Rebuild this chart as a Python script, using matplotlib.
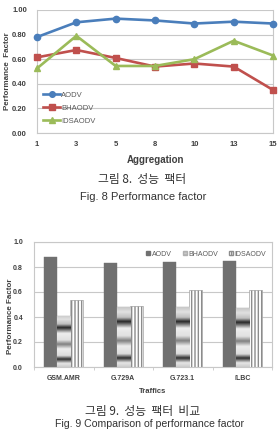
import numpy as np
import matplotlib
matplotlib.use("Agg")
import matplotlib.pyplot as plt
from matplotlib.patches import Patch

# ---------------- data ----------------
agg_labels = ["1", "3", "5", "8", "10", "13", "15"]
aodv_line = [0.78, 0.90, 0.93, 0.915, 0.89, 0.905, 0.89]
bhaodv_line = [0.615, 0.675, 0.61, 0.54, 0.565, 0.54, 0.35]
idsaodv_line = [0.525, 0.79, 0.545, 0.545, 0.60, 0.75, 0.63]

traffics = ["GSM.AMR", "G.729A", "G.723.1", "iLBC"]
aodv_bar = [0.88, 0.83, 0.84, 0.85]
bhaodv_bar = [0.41, 0.48, 0.48, 0.47]
idsaodv_bar = [0.54, 0.49, 0.62, 0.62]

top_yticks = [0.0, 0.2, 0.4, 0.6, 0.8, 1.0]
bot_yticks = [0.0, 0.2, 0.4, 0.6, 0.8, 1.0]
series_names = ["AODV", "BHAODV", "IDSAODV"]

# ---------------- style ----------------
W, H = 278, 434
DPI = 100
TICK_FONT = "Liberation Sans"
TXT = "#404040"
GRID = "#c8c8c8"

fig = plt.figure(figsize=(W / DPI, H / DPI), dpi=DPI)
fig.patch.set_facecolor("white")


def ax_rect(left, top, right, bottom):
    return [left / W, 1 - bottom / H, (right - left) / W, (bottom - top) / H]


# ---------------- top chart ----------------
ax1 = fig.add_axes(ax_rect(37, 10, 273, 133))
x = np.arange(len(agg_labels))
colors = ["#4a7ebb", "#c0504d", "#9bbb59"]
markers = ["o", "s", "^"]
for vals, c, m, name in zip([aodv_line, bhaodv_line, idsaodv_line], colors, markers, series_names):
    ax1.plot(x, vals, color=c, lw=1.9, marker=m, ms=4.5, mec=c, mfc=c,
             label=name, clip_on=False, zorder=3)
ax1.set_xlim(0, len(agg_labels) - 1)
ax1.set_ylim(0, 1.0)
ax1.set_yticks(top_yticks)
ax1.set_yticklabels([f"{v:.2f}" for v in top_yticks], fontsize=5.5, fontweight="bold",
                    family=TICK_FONT, color=TXT)
ax1.set_xticks(x)
ax1.set_xticklabels(agg_labels, fontsize=5.5, fontweight="bold", family=TICK_FONT, color=TXT)
ax1.tick_params(axis="x", length=0, pad=5.8)
ax1.tick_params(axis="y", length=0, pad=7.2)
ax1.grid(axis="y", color=GRID, lw=0.8)
ax1.set_axisbelow(True)
for s in ax1.spines.values():
    s.set_color(GRID)
    s.set_linewidth(0.8)
ax1.spines["top"].set_visible(False)
ax1.set_xlabel("Aggregation", fontsize=7, fontweight="bold", family=TICK_FONT, color=TXT, labelpad=5)
ax1.set_ylabel("Performance  Factor", fontsize=5.8, fontweight="bold", family=TICK_FONT,
               color=TXT)
ax1.yaxis.set_label_coords((11 - 37) / 236, (133 - 71) / 123)
leg1 = ax1.legend(loc="lower left", bbox_to_anchor=(0.0, 0.015), frameon=False,
                  prop={"family": TICK_FONT, "size": 5.5}, handlelength=2.2,
                  handletextpad=0.2, labelspacing=0.75, borderpad=0.3, markerscale=0.9)
for t in leg1.get_texts():
    t.set_color("#595959")

# ---------------- bottom chart ----------------
ax2 = fig.add_axes(ax_rect(34, 242, 272, 367))
xb = np.arange(len(traffics))
bw = 0.22
b1 = ax2.bar(xb - bw, aodv_bar, bw, color="#707070", edgecolor="#707070", lw=0.3, zorder=2)
b2 = ax2.bar(xb, bhaodv_bar, bw, color="#d0d0d0", edgecolor="#a0a0a0", lw=0.3, zorder=2)
b3 = ax2.bar(xb + bw, idsaodv_bar, bw, color="white", edgecolor="#8c8c8c", lw=0.4,
             hatch="|||||", zorder=2)

# chrome-like gradient fill for BHAODV bars (style only)
stops_f = [0.00, 0.07, 0.15, 0.22, 0.35, 0.44, 0.52, 0.65, 0.76, 0.83, 0.92, 1.00]
stops_g = [0.80, 0.90, 0.18, 0.86, 0.93, 0.50, 0.88, 0.93, 0.15, 0.75, 0.88, 0.78]
ff = np.linspace(0, 1, 200)
grad = np.interp(ff, stops_f, stops_g)[::-1].reshape(-1, 1)
for p in b2.patches:
    x0, y0, w, h = p.get_x(), p.get_y(), p.get_width(), p.get_height()
    im = ax2.imshow(grad, cmap="gray", vmin=0, vmax=1, aspect="auto",
                    extent=[x0, x0 + w, y0, y0 + h], interpolation="bilinear", zorder=2.5)
    im.set_clip_path(p)

ax2.set_xlim(-0.5, len(traffics) - 0.5)
ax2.set_ylim(0, 1.0)
ax2.set_yticks(bot_yticks)
ax2.set_yticklabels([f"{v:.1f}" for v in bot_yticks], fontsize=5, fontweight="bold",
                    family=TICK_FONT, color=TXT)
ax2.set_xticks(xb)
ax2.set_xticklabels(traffics, fontsize=5, fontweight="bold", family=TICK_FONT, color=TXT)
ax2.set_xticks(np.arange(len(traffics) + 1) - 0.5, minor=True)
ax2.tick_params(axis="x", which="major", length=0, pad=6)
ax2.tick_params(axis="y", which="major", length=0, pad=8)
ax2.tick_params(axis="x", which="minor", length=2, color=GRID, direction="out")
ax2.grid(axis="y", color=GRID, lw=0.8)
ax2.set_axisbelow(True)
for s in ax2.spines.values():
    s.set_color(GRID)
    s.set_linewidth(0.8)
ax2.set_xlabel("Traffics", fontsize=5.5, fontweight="bold", family=TICK_FONT, color=TXT, labelpad=4)
ax2.set_ylabel("Performance Factor", fontsize=5.8, fontweight="bold", family=TICK_FONT,
               color=TXT)
ax2.yaxis.set_label_coords((14 - 34) / 238, (367 - 316) / 125)
handles = [Patch(facecolor="#707070", edgecolor="#707070"),
           Patch(facecolor="#c8c8c8", edgecolor="#b0b0b0", hatch="-----"),
           Patch(facecolor="white", edgecolor="#8c8c8c", hatch="|||||")]
leg2 = ax2.legend(handles, series_names, loc="upper right", bbox_to_anchor=(1.0, 0.975),
                  ncol=3, frameon=False, prop={"family": TICK_FONT, "size": 5},
                  handlelength=0.6, handleheight=0.6, handletextpad=0.2, columnspacing=1.6,
                  borderpad=0.3)
for t in leg2.get_texts():
    t.set_color("#595959")

# ---------------- captions ----------------
KR = ["Noto Sans CJK KR", "DejaVu Sans"]
fig.text(142 / W, 1 - 179 / H, "그림 8.  성능  팩터", ha="center", va="center",
         fontsize=8.5, family=KR, color="#333333")
fig.text(143 / W, 1 - 197 / H, "Fig. 8 Performance factor", ha="center", va="center",
         fontsize=8, family="Liberation Sans", color="#333333")
fig.text(143 / W, 1 - 412 / H, "그림 9.  성능  팩터  비교", ha="center", va="center",
         fontsize=8.5, family=KR, color="#333333")
fig.text(150 / W, 1 - 424 / H, "Fig. 9 Comparison of performance factor", ha="center",
         va="center", fontsize=7.6, family="Liberation Sans", color="#333333")

fig.savefig("out.png", dpi=DPI)
